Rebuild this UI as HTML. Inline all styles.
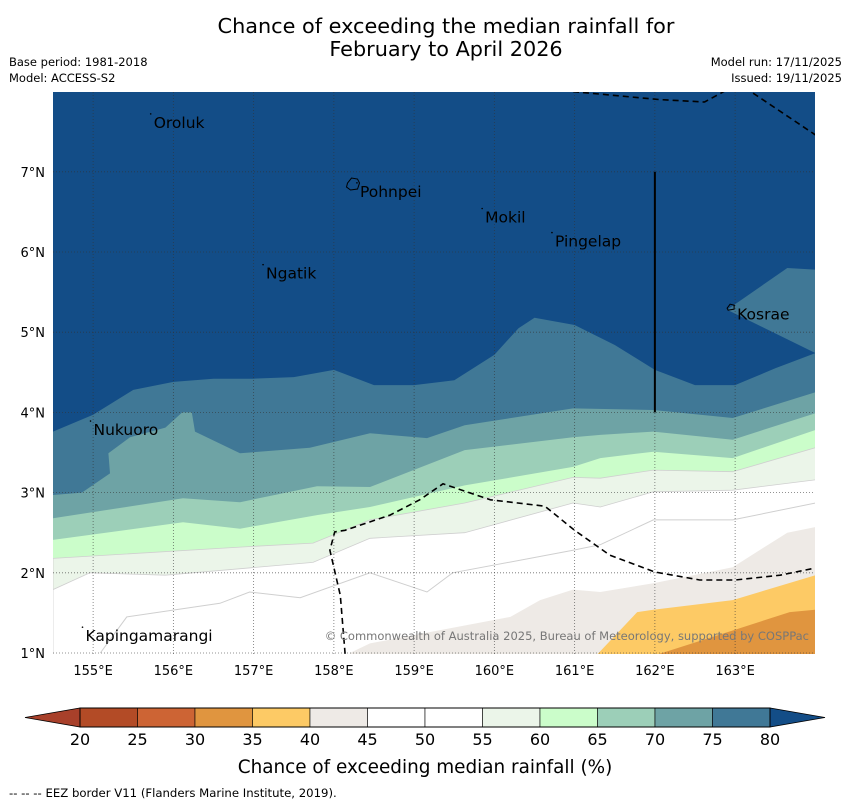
<!DOCTYPE html>
<html><head><meta charset="utf-8"><style>
body{margin:0;background:#fff;}
svg{display:block;font-family:"DejaVu Sans","Liberation Sans",sans-serif;}
</style></head><body>
<svg id="chart" width="850" height="804" viewBox="0 0 850 804">
<text x="446" y="33" font-size="20.8" text-anchor="middle">Chance of exceeding the median rainfall for</text>
<text x="446" y="56" font-size="20.8" text-anchor="middle">February to April 2026</text>
<text x="9" y="66" font-size="11.5">Base period: 1981-2018</text>
<text x="9" y="82" font-size="11.5">Model: ACCESS-S2</text>
<text x="842" y="66" font-size="11.5" text-anchor="end">Model run: 17/11/2025</text>
<text x="842" y="82" font-size="11.5" text-anchor="end">Issued: 19/11/2025</text>
<defs><clipPath id="mapclip"><rect x="53" y="92" width="762" height="562"/></clipPath></defs>
<g id="map" clip-path="url(#mapclip)"></g>
<g id="axes"></g>
<g id="cbar"></g>
<text x="425" y="773" font-size="18.4" text-anchor="middle">Chance of exceeding median rainfall (%)</text>
<text x="9" y="797" font-size="11.7">--  --  -- EEZ border V11 (Flanders Marine Institute, 2019).</text>
</svg>
<script>
// ---- data ----
const lonTicks=[155,156,157,158,159,160,161,162,163];
const latTicks=[1,2,3,4,5,6,7];
const cbLevels=[20,25,30,35,40,45,50,55,60,65,70,75,80];
const cbColors=["#b34b26","#cd6434","#e0953f","#fdca65","#eeeae6","#ffffff","#ffffff","#ebf5e9","#cbfdca","#9ccfb8","#6ea3a5","#407896"];
const belowColor="#a8402a", aboveColor="#134d87";
const b80=[[154.5,3.76],[155,3.97],[155.5,4.28],[156,4.38],[156.5,4.42],[157,4.42],[157.5,4.44],[158,4.53],[158.5,4.34],[159,4.34],[159.5,4.40],[160,4.72],[160.3,5.05],[160.5,5.18],[161,5.09],[161.5,4.84],[162,4.53],[162.5,4.34],[163,4.34],[163.5,4.55],[164,4.74]];
const island75=[[162.9,5.28],[163.65,5.8],[164,5.78],[164,4.74]];
const b75=[[154.5,2.97],[154.86,3.0],[155.21,3.24],[155.19,3.49],[155.46,3.69],[155.9,3.81],[156.11,4.0],[156.23,4.0],[156.27,3.76],[156.83,3.49],[157.7,3.56],[158.45,3.74],[159.16,3.68],[159.63,3.84],[160.98,4.05],[161.98,4.03],[162.97,3.93],[164,4.25]];
const b70=[[154.5,2.68],[156.12,2.93],[156.83,2.88],[157.79,3.08],[158.45,3.07],[159.63,3.53],[160.98,3.69],[161.32,3.72],[161.98,3.76],[162.97,3.66],[164,3.99]];
const b65=[[154.5,2.41],[156.12,2.63],[156.83,2.55],[157.79,2.72],[158.45,2.82],[159.63,3.09],[160.98,3.32],[161.32,3.43],[161.98,3.51],[162.97,3.43],[164,3.78]];
const b60=[[154.5,2.18],[156.83,2.32],[157.74,2.37],[158.45,2.66],[159.63,2.87],[160.98,3.19],[161.32,3.18],[161.98,3.28],[162.97,3.26],[164,3.56]];
const b55=[[154.5,1.79],[154.96,2.0],[155.9,1.97],[157.74,2.13],[158.45,2.43],[159.63,2.5],[160.98,2.87],[161.32,2.82],[161.98,3.01],[162.97,3.03],[164,3.16]];
const line50=[[155.09,1.0],[155.42,1.45],[156.58,1.62],[156.95,1.76],[157.58,1.69],[158.45,2.0],[159.16,1.76],[159.48,2.0],[160.98,2.28],[161.32,2.35],[161.98,2.66],[162.97,2.66],[164,2.87]];
const b45=[[158.2,1.0],[158.45,1.12],[160.2,1.45],[160.57,1.66],[160.98,1.79],[161.32,1.76],[161.98,1.87],[162.97,2.07],[163.65,2.5],[164,2.57]];
const b40=[[161.29,0.99],[161.78,1.51],[161.98,1.54],[162.97,1.66],[164,1.97]];
const b35=[[162.06,0.99],[163.0,1.29],[163.68,1.51],[164,1.54]];
const eezNorth1=[[160.98,8.0],[162.06,7.9],[162.62,7.87],[162.95,8.05]];
const eezNorth2=[[163.12,8.05],[164,7.46]];
const eezSouth=[[158.14,0.99],[158.08,1.72],[157.95,2.28],[158.01,2.51],[158.14,2.53],[158.7,2.72],[159.07,2.91],[159.36,3.11],[159.95,2.91],[160.63,2.83],[161.0,2.53],[161.44,2.22],[162.0,2.01],[162.56,1.91],[163.0,1.91],[163.56,1.97],[164,2.06]];
const islandNames=["Oroluk","Pohnpei","Mokil","Pingelap","Ngatik","Kosrae","Nukuoro","Kapingamarangi"];
const islandLon=[155.73,158.3,159.86,160.73,157.13,163.0,154.98,154.88];
const islandLat=[7.66,6.8,6.48,6.18,5.78,5.27,3.83,1.26];
// ---- scales ----
const X=lon=>53+(lon-154.5)*80.25;
const Y=lat=>653-(lat-1)*80.2;
const NS="http://www.w3.org/2000/svg";
function mk(tag,attrs,parent){const e=document.createElementNS(NS,tag);for(const k in attrs)e.setAttribute(k,attrs[k]);parent.appendChild(e);return e;}
const map=document.getElementById('map');
const pts=a=>a.map(p=>X(p[0]).toFixed(1)+','+Y(p[1]).toFixed(1)).join(' ');
let bg=mk('rect',{x:53,y:92,width:762,height:562,fill:aboveColor},map);


const bands=[[b80,cbColors[11],'band-75-80'],[b75,cbColors[10],'band-70-75'],[b70,cbColors[9],'band-65-70'],[b65,cbColors[8],'band-60-65'],[b60,cbColors[7],'band-55-60'],[b55,cbColors[6],'band-50-55'],[b45,cbColors[4],'band-40-45'],[b40,cbColors[3],'band-35-40'],[b35,cbColors[2],'band-30-35']];
bands.forEach(b=>{const a=b[0];const poly=a.concat([[a[a.length-1][0],0.9],[a[0][0],0.9]]);
 const e=mk('polygon',{points:pts(poly),fill:b[1],stroke:b[1]==='#ffffff'||b[1]==='#ebf5e9'?'#cfcfcf':'none','stroke-width':0.8},map);
 
 });
let isl=mk('polygon',{points:pts(island75),fill:cbColors[11]},map);


let l50=mk('polyline',{points:pts(line50),fill:'none',stroke:'#cfcfcf','stroke-width':1},map);


// grid
lonTicks.forEach(l=>{const g=mk('line',{x1:X(l),x2:X(l),y1:92,y2:654,stroke:'#333','stroke-width':0.8,'stroke-dasharray':'1,2','opacity':0.7},map);
 
 });
latTicks.forEach(l=>{const g=mk('line',{x1:53,x2:815,y1:Y(l),y2:Y(l),stroke:'#333','stroke-width':0.8,'stroke-dasharray':'1,2','opacity':0.7},map);
 
 });
[eezNorth1,eezNorth2,eezSouth].forEach(a=>{const e=mk('polyline',{points:pts(a),fill:'none',stroke:'#000','stroke-width':1.6,'stroke-dasharray':'6,4'},map);
 
 });
let vl=mk('line',{x1:X(162),x2:X(162),y1:Y(7),y2:Y(4),stroke:'#000','stroke-width':2},map);


// Pohnpei & Kosrae outlines
let pp=mk('path',{d:`M${X(158.17)},${Y(6.86)} l4,-5 l6,1 l2,4 l-2,6 l-7,1 l-4,-3 z`,fill:'none',stroke:'#000','stroke-width':1},map);


let kk=mk('path',{d:`M${X(162.9)},${Y(5.3)} l3,-4 l4,1 l0,4 l-6,1 z`,fill:'none',stroke:'#000','stroke-width':1},map);


islandNames.forEach((n,i)=>{const t=mk('text',{x:X(islandLon[i])+2,y:Y(islandLat[i])+9,'font-size':15.5,fill:'#000'},map);t.textContent=n;
 
 
 const d=mk('circle',{cx:X(islandLon[i])-1,cy:Y(islandLat[i])-5,r:0.8,fill:'#000'},map);
 
 });
let cp=mk('text',{x:809,y:640,'font-size':11.5,fill:'#777','text-anchor':'end'},map);cp.textContent='© Commonwealth of Australia 2025, Bureau of Meteorology, supported by COSPPac';


// axis labels
const ax=document.getElementById('axes');
lonTicks.forEach(l=>{const t=mk('text',{x:X(l),y:675,'font-size':13,'text-anchor':'middle'},ax);t.textContent=l+'°E';
 
 });
latTicks.forEach(l=>{const t=mk('text',{x:45,y:Y(l)+5,'font-size':13,'text-anchor':'end'},ax);t.textContent=l+'°N';
 
 });
// colorbar
const cb=document.getElementById('cbar');
const CX=v=>80+(v-20)/60*690;
const cy0=708,cy1=727;
let tl=mk('polygon',{points:`${CX(20)},${cy0} ${CX(20)},${cy1} 25,${(cy0+cy1)/2}`,fill:belowColor,stroke:'#000','stroke-width':0.8},cb);


let tr=mk('polygon',{points:`${CX(80)},${cy0} ${CX(80)},${cy1} 825,${(cy0+cy1)/2}`,fill:aboveColor,stroke:'#000','stroke-width':0.8},cb);


cbColors.forEach((c,i)=>{const r=mk('rect',{x:CX(cbLevels[i]),y:cy0,width:CX(cbLevels[i+1])-CX(cbLevels[i]),height:cy1-cy0,fill:c,stroke:'#000','stroke-width':0.6},cb);
 
 });
let fr=mk('rect',{x:CX(20),y:cy0,width:CX(80)-CX(20),height:cy1-cy0,fill:'none',stroke:'#000','stroke-width':1},cb);


cbLevels.forEach(v=>{const t=mk('text',{x:CX(v),y:745,'font-size':16,'text-anchor':'middle'},cb);t.textContent=v;
 
 });
</script>
</body></html>
